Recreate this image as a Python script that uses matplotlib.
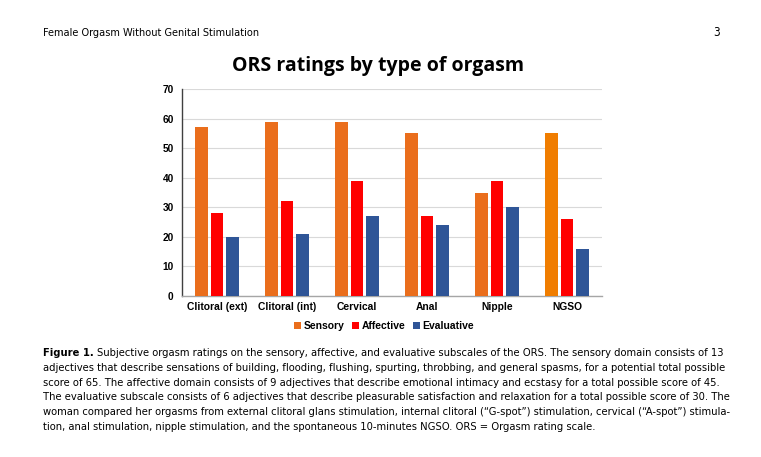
import matplotlib
matplotlib.use("Agg")
import matplotlib.pyplot as plt
from matplotlib import font_manager
from matplotlib.font_manager import FontProperties
import numpy as np

categories = ["Clitoral (ext)", "Clitoral (int)", "Cervical", "Anal", "Nipple", "NGSO"]
sensory = [57, 59, 59, 55, 35, 55]
affective = [28, 32, 39, 27, 39, 26]
evaluative = [20, 21, 27, 24, 30, 16]
series_names = ["Sensory", "Affective", "Evaluative"]
yticks = [0, 10, 20, 30, 40, 50, 60, 70]

caption_lines = [
    "Subjective orgasm ratings on the sensory, affective, and evaluative subscales of the ORS. The sensory domain consists of 13",
    "adjectives that describe sensations of building, flooding, flushing, spurting, throbbing, and general spasms, for a potential total possible",
    "score of 65. The affective domain consists of 9 adjectives that describe emotional intimacy and ecstasy for a total possible score of 45.",
    "The evaluative subscale consists of 6 adjectives that describe pleasurable satisfaction and relaxation for a total possible score of 30. The",
    "woman compared her orgasms from external clitoral glans stimulation, internal clitoral (\u201cG-spot\u201d) stimulation, cervical (\u201cA-spot\u201d) stimula-",
    "tion, anal stimulation, nipple stimulation, and the spontaneous 10-minutes NGSO. ORS = Orgasm rating scale.",
]


def find_condensed(bold=False):
    best = None
    for f in font_manager.fontManager.ttflist:
        nm = (f.name + " " + f.fname).lower()
        st = str(f.stretch).lower()
        cond = ("condensed" in nm or "narrow" in nm or "condensed" in st)
        if not cond:
            continue
        w = f.weight if isinstance(f.weight, int) else (700 if "bold" in str(f.weight) else 400)
        if "italic" in str(f.style) or "oblique" in str(f.style) or "italic" in nm or "oblique" in nm:
            continue
        isbold = w >= 600 or "bold" in nm
        if isbold != bold:
            continue
        if best is None or ("sans" in nm and "mono" not in nm):
            best = f.fname
            if "sans" in nm and "mono" not in nm and "extra" not in nm and "semi" not in nm:
                break
    if best is None:
        return FontProperties(family="DejaVu Sans", weight="bold" if bold else "normal")
    return FontProperties(fname=best)


fp_reg = find_condensed(False)
fp_bold = find_condensed(True)

W, H = 761, 457
fig = plt.figure(figsize=(W / 100, H / 100), dpi=100)
fig.patch.set_facecolor("white")
renderer = fig.canvas.get_renderer()


def text_width(s, fp, size):
    p = fp.copy()
    p.set_size(size)
    t = fig.text(0, 0, s, fontproperties=p)
    w = t.get_window_extent(renderer).width
    t.remove()
    return w


ax = fig.add_axes([182 / W, 1 - 296 / H, 420 / W, 207 / H])
x = np.arange(len(categories))
bw = 0.185
step = 0.22
c_sens = ["#EA6E1C"] * 5 + ["#F07D00"]
ax.bar(x - step, sensory, bw, color=c_sens, label=series_names[0], zorder=3)
ax.bar(x, affective, bw, color="#FF0000", label=series_names[1], zorder=3)
ax.bar(x + step, evaluative, bw, color="#2F5597", label=series_names[2], zorder=3)

ax.set_xlim(-0.5, len(categories) - 0.5)
ax.set_ylim(0, 70)
ax.set_yticks(yticks)
ax.set_yticklabels([str(v) for v in yticks], fontsize=7.3, fontweight="bold", family="Liberation Sans")
ax.set_xticks(x)
ax.set_xticklabels(categories, fontsize=7.4, fontweight="bold", family="Liberation Sans")
ax.tick_params(axis="y", length=0, pad=6)
ax.tick_params(axis="x", length=0, pad=4)
ax.grid(axis="y", color="#D9D9D9", linewidth=0.8, zorder=0)
for s in ["top", "right"]:
    ax.spines[s].set_visible(False)
ax.spines["left"].set_color("#404040")
ax.spines["left"].set_linewidth(1.0)
ax.spines["bottom"].set_color("#A6A6A6")
ax.spines["bottom"].set_linewidth(1.0)

fig.legend(*ax.get_legend_handles_labels(), loc="center", bbox_to_anchor=(384 / W, 1 - 326 / H),
           ncol=3, frameon=False, handlelength=0.65, handleheight=0.65, handletextpad=0.3,
           columnspacing=0.7, prop={"family": "Liberation Sans", "weight": "bold", "size": 7.5})

fig.text(378 / W, 1 - 66 / H, "ORS ratings by type of orgasm", ha="center", va="center",
         fontsize=14, fontweight="bold", family="Open Sans")

# header
hdr = "Female Orgasm Without Genital Stimulation"
hs = 7.8
wtest = text_width(hdr, fp_reg, hs)
hs = hs * min(1.0, 219 / wtest)
p = fp_reg.copy(); p.set_size(hs)
fig.text(43 / W, 1 - 33 / H, hdr, ha="left", va="center", fontproperties=p)
p3 = fp_reg.copy(); p3.set_size(8.5)
fig.text(720 / W, 1 - 33 / H, "3", ha="right", va="center", fontproperties=p3)

# caption
label = "Figure 1."
base = 8.6
target = 731 - 43
sizes = []
for i, line in enumerate(caption_lines[:5]):
    w = text_width(line, fp_reg, base)
    if i == 0:
        w += text_width(label + " ", fp_bold, base)
    sizes.append(base * target / w)
cs = min(base, min(sizes))

y0 = 353
for i, line in enumerate(caption_lines):
    yy = 1 - (y0 + i * 14.8) / H
    pr = fp_reg.copy(); pr.set_size(cs)
    if i == 0:
        pb = fp_bold.copy(); pb.set_size(cs)
        t = fig.text(43 / W, yy, label, ha="left", va="center", fontproperties=pb)
        bb = t.get_window_extent(renderer)
        fig.text((bb.x1 + 3) / W, yy, line, ha="left", va="center", fontproperties=pr)
    else:
        fig.text(43 / W, yy, line, ha="left", va="center", fontproperties=pr)

fig.savefig("out.png", dpi=100)
